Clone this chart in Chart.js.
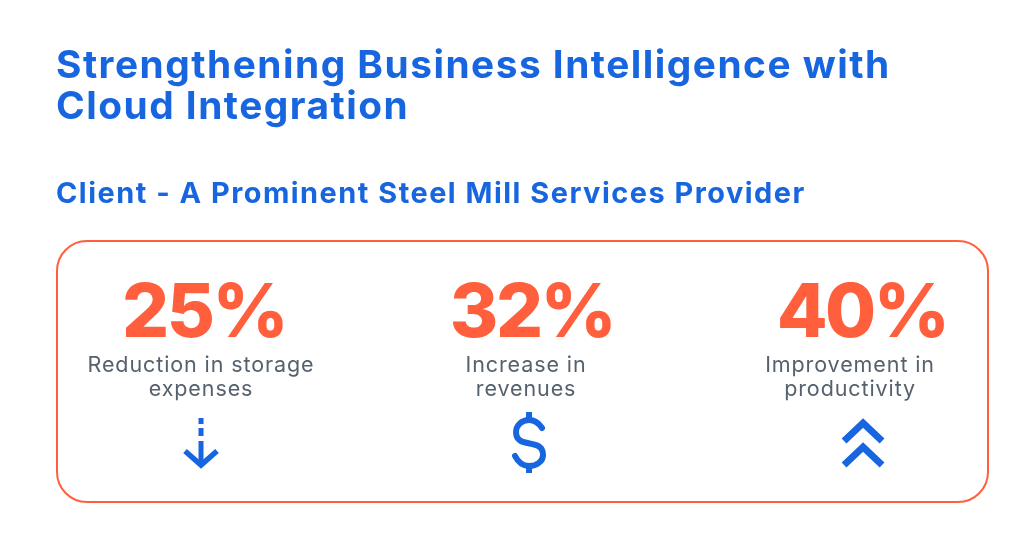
<!DOCTYPE html>
<html>
<head>
<meta charset="utf-8">
<title>Strengthening Business Intelligence with Cloud Integration</title>
<script src="https://cdn.jsdelivr.net/npm/chart.js@4/dist/chart.umd.min.js"></script>
<style>
html,body{margin:0;padding:0;background:#fff;overflow:hidden}
#wrap{position:relative;width:1024px;height:558px}
</style>
</head>
<body>
<div id="wrap"><canvas id="mycanvas"></canvas></div>
<script>
var titleLines = ["Strengthening Business Intelligence with", "Cloud Integration"];
var subtitleText = "Client - A Prominent Steel Mill Services Provider";
var percentValues = [25, 32, 40];
var captions = [
	["Reduction in storage", "expenses"],
	["Increase in", "revenues"],
	["Improvement in", "productivity"]
];
var iconNames = ["arrow", "dollar", "chevrons"];

var BLUE = "#1766e0", ORANGE = "#ff5f3c", GRAY = "#56616e";
var FONT = "Inter, 'Noto Sans', sans-serif";

// small shifts from the column centre, the source art is not quite aligned
var valueShift = [-1, -1, 1];
var captionShift = [-4, -7, -11];
var iconShift = [-4, -4, 2];

function drawArrow(ctx, x) {
	ctx.lineWidth = 5;
	ctx.lineCap = "butt";
	ctx.beginPath();
	ctx.moveTo(x, 418); ctx.lineTo(x, 424);
	ctx.moveTo(x, 428); ctx.lineTo(x, 436);
	ctx.moveTo(x, 441); ctx.lineTo(x, 464);
	ctx.stroke();
	ctx.lineWidth = 5.5;
	ctx.beginPath();
	ctx.moveTo(x - 16, 451); ctx.lineTo(x, 465); ctx.lineTo(x + 16, 451);
	ctx.stroke();
}

function drawDollar(ctx, x) {
	ctx.lineWidth = 6;
	ctx.lineCap = "round";
	ctx.beginPath();
	ctx.moveTo(x + 13, 428);
	ctx.bezierCurveTo(x + 9, 422, x + 5, 420, x, 420);
	ctx.bezierCurveTo(x - 8, 420, x - 13, 426, x - 13, 432);
	ctx.bezierCurveTo(x - 13, 450, x + 14, 437, x + 14, 455);
	ctx.bezierCurveTo(x + 14, 461, x + 8, 466, x, 466);
	ctx.bezierCurveTo(x - 6, 466, x - 11, 462, x - 14, 456);
	ctx.stroke();
	ctx.lineCap = "butt";
	ctx.beginPath();
	ctx.moveTo(x, 412); ctx.lineTo(x, 420);
	ctx.moveTo(x, 466); ctx.lineTo(x, 473);
	ctx.stroke();
}

function drawChevrons(ctx, x) {
	ctx.lineWidth = 7;
	ctx.lineCap = "butt";
	[0, 24].forEach(function(dy) {
		ctx.beginPath();
		ctx.moveTo(x - 19, 441 + dy); ctx.lineTo(x, 423 + dy); ctx.lineTo(x + 19, 441 + dy);
		ctx.stroke();
	});
}

var iconDrawers = {arrow: drawArrow, dollar: drawDollar, chevrons: drawChevrons};

var panelPlugin = {
	id: "panel",
	beforeDraw: function(chart) {
		// Inter is narrower than the artwork's typeface, open the headings up
		chart.ctx.letterSpacing = "1.5px";
	},
	afterDraw: function(chart) {
		var ctx = chart.ctx, a = chart.chartArea, x = chart.scales.x;
		ctx.save();
		ctx.strokeStyle = ORANGE;
		ctx.lineWidth = 2;
		ctx.beginPath();
		ctx.roundRect(a.left + 1, a.top, a.right - a.left - 1, a.bottom - a.top, 30);
		ctx.stroke();

		ctx.textAlign = "center";
		ctx.textBaseline = "alphabetic";
		percentValues.forEach(function(v, i) {
			var cx = x.getPixelForValue(i);
			ctx.letterSpacing = "-2.5px";
			ctx.fillStyle = ORANGE;
			ctx.font = "800 74px " + FONT;
			ctx.fillText(v + "%", cx + valueShift[i], a.top + 96);
			ctx.letterSpacing = "0.9px";
			ctx.fillStyle = GRAY;
			ctx.font = "400 21.5px " + FONT;
			captions[i].forEach(function(line, j) {
				ctx.fillText(line, cx + captionShift[i], a.top + 131 + j * 24);
			});
			ctx.strokeStyle = BLUE;
			iconDrawers[iconNames[i]](ctx, cx + iconShift[i]);
		});
		ctx.restore();
	}
};

var ctx = document.getElementById("mycanvas");
var statChart = new Chart(ctx, {
	type: "scatter",
	data: {
		datasets: [{
			label: "Change (%)",
			data: percentValues.map(function(v, i) { return {x: i, y: v}; }),
			pointRadius: 0,
			pointHoverRadius: 0,
			showLine: false
		}]
	},
	plugins: [panelPlugin],
	options: {
		responsive: true,
		maintainAspectRatio: false,
		animation: false,
		layout: {padding: {left: 56, right: 36, bottom: 56, top: 0}},
		scales: {
			x: {type: "linear", display: false, min: -0.4543, max: 2.387},
			y: {display: false, min: 0, max: 100}
		},
		plugins: {
			legend: {display: false},
			tooltip: {enabled: false},
			title: {
				display: true,
				text: titleLines,
				align: "start",
				color: BLUE,
				font: {family: FONT, size: 38.8, weight: "700", lineHeight: 41 / 38.8},
				padding: {top: 46, bottom: 0}
			},
			subtitle: {
				display: true,
				text: subtitleText,
				align: "start",
				color: BLUE,
				font: {family: FONT, size: 28.9, weight: "700", lineHeight: 30 / 28.9},
				padding: {top: 51, bottom: 32}
			}
		}
	}
});
</script>
</body>
</html>
